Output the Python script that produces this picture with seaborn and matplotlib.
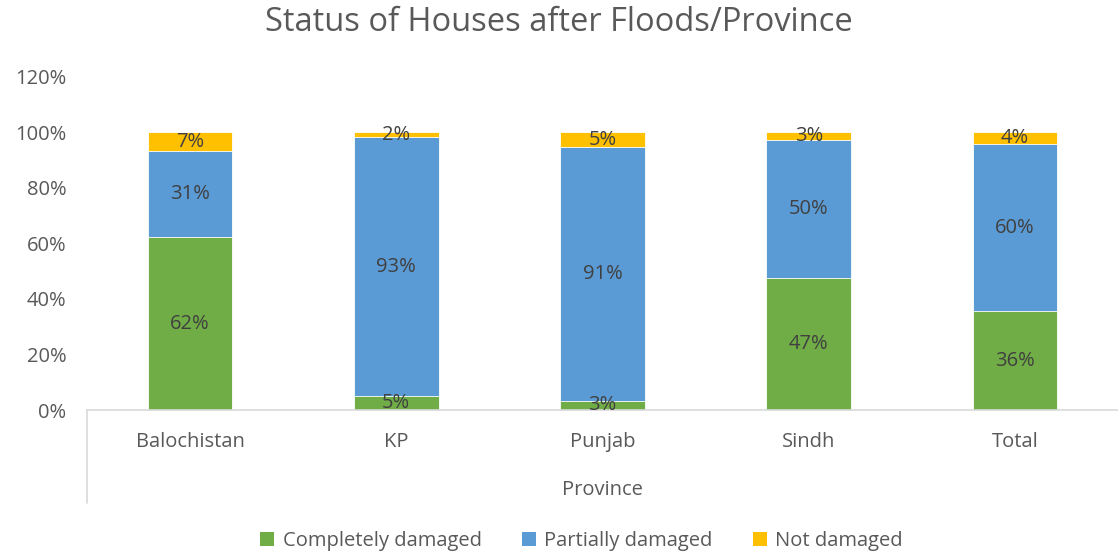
"""
Status of houses after floods, by province (stacked bars)
"""

import numpy as np
import pandas as pd
import matplotlib
matplotlib.use('Agg')
import matplotlib.pyplot as plt
from matplotlib.lines import Line2D
from matplotlib.patches import Patch
import seaborn as sns

# data (share of houses, %)
provinces = ['Balochistan', 'KP', 'Punjab', 'Sindh', 'Total']
completely_damaged = [62.2, 5.0, 3.4, 47.4, 35.6]
partially_damaged = [31.0, 93.2, 91.2, 49.7, 60.1]
not_damaged = [6.8, 1.8, 5.4, 2.9, 4.3]
series_names = ['Completely damaged', 'Partially damaged', 'Not damaged']
colors = ['#70AD47', '#5B9BD5', '#FFC000']
y_ticks = [0, 20, 40, 60, 80, 100, 120]

df = pd.DataFrame({
    'Province': provinces,
    'Completely damaged': completely_damaged,
    'Partially damaged': partially_damaged,
    'Not damaged': not_damaged,
})
df['cum1'] = df['Completely damaged']
df['cum2'] = df['cum1'] + df['Partially damaged']
df['cum3'] = df['cum2'] + df['Not damaged']

sns.set_theme(style='white')
plt.rcParams['font.family'] = ['Open Sans', 'DejaVu Sans']
text_col = '#595959'
label_col = '#404040'

fig = plt.figure(figsize=(11.18, 5.54), dpi=100)
ax = fig.add_axes([87 / 1118, 1 - 410 / 554, 1 - 87 / 1118, (410 - 76.5) / 554])

# draw tallest first so each shorter stack sits on top
for col, color in zip(['cum3', 'cum2', 'cum1'], colors[::-1]):
    sns.barplot(data=df, x='Province', y=col, color=color, width=0.41,
                edgecolor='white', linewidth=0.6, ax=ax, saturation=1)

# segment labels, centred in each segment
for i in range(len(provinces)):
    bottoms = [0, df['cum1'][i], df['cum2'][i]]
    heights = [completely_damaged[i], partially_damaged[i], not_damaged[i]]
    for b, h in zip(bottoms, heights):
        ax.text(i, b + h / 2, f'{round(h):.0f}%', ha='center', va='center',
                fontsize=14.5, color=label_col)

ax.set_ylim(0, 120)
ax.set_xlim(-0.5, len(provinces) - 0.5)
ax.set_yticks(y_ticks)
ax.set_yticklabels([f'{t}%' for t in y_ticks])
ax.tick_params(axis='both', length=0, labelsize=14.5, colors=text_col)
ax.tick_params(axis='x', pad=16)
ax.tick_params(axis='y', pad=15)
for s in ['top', 'right', 'left']:
    ax.spines[s].set_visible(False)
ax.spines['bottom'].set_color('#D9D9D9')
ax.spines['bottom'].set_linewidth(1.2)
ax.set_ylabel('')
ax.set_xlabel('Province', fontsize=14.5, color=text_col, labelpad=20)

# category group line below the axis on the left
fig.add_artist(Line2D([87 / 1118, 87 / 1118], [1 - 410 / 554, 1 - 503 / 554],
                      color='#D9D9D9', linewidth=1.2))

fig.suptitle('Status of Houses after Floods/Province', y=0.99,
             fontsize=23.5, color=text_col)

handles = [Patch(facecolor=c, edgecolor='none') for c in colors]
fig.legend(handles, series_names, loc='center', bbox_to_anchor=(0.52, 1 - 541 / 554),
           ncol=3, frameon=False, fontsize=14.5, labelcolor=text_col,
           handlelength=0.7, handleheight=0.7, handletextpad=0.4, columnspacing=2.0)

plt.savefig('out.png', dpi=100)
